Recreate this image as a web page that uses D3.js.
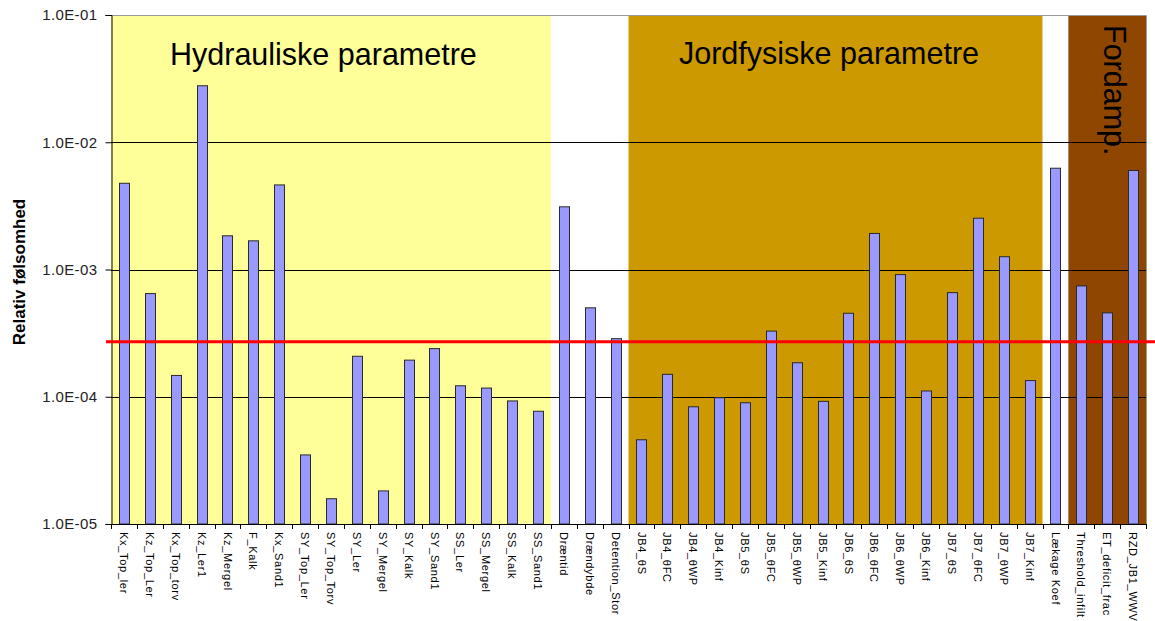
<!DOCTYPE html>
<html>
<head>
<meta charset="utf-8">
<script src="https://cdn.jsdelivr.net/npm/d3@7"></script>
<style>
  html, body { margin: 0; padding: 0; background: #ffffff; }
  svg { display: block; font-family: Arial, "Liberation Sans", sans-serif; }
</style>
</head>
<body>
<svg id="chart" width="1155" height="621"></svg>
<script>
// Parameter names along the x axis
const categories = [
  "Kx_Top_ler", "Kz_Top_Ler", "Kx_Top_torv", "Kz_Ler1", "Kz_Mergel", "F_Kalk", "Kx_Sand1",
  "SY_Top_Ler", "SY_Top_Torv", "SY_Ler", "SY_Mergel", "SY_Kalk", "SY_Sand1",
  "SS_Ler", "SS_Mergel", "SS_Kalk", "SS_Sand1",
  "Dræntid", "Drændybde", "Detention_Stor",
  "JB4_θS", "JB4_θFC", "JB4_θWP", "JB4_Kinf",
  "JB5_θS", "JB5_θFC", "JB5_θWP", "JB5_Kinf",
  "JB6_θS", "JB6_θFC", "JB6_θWP", "JB6_Kinf",
  "JB7_θS", "JB7_θFC", "JB7_θWP", "JB7_Kinf",
  "Lækage Koef",
  "Threshold_infilt", "ET_deficit_frac", "RZD_JB1_WWV"
];

// Relative sensitivity of each parameter
const sensitivity = [
  4.76e-3, 6.47e-4, 1.47e-4, 2.78e-2, 1.84e-3, 1.68e-3, 4.62e-3,
  3.49e-5, 1.58e-5, 2.08e-4, 1.82e-5, 1.94e-4, 2.39e-4,
  1.22e-4, 1.17e-4, 9.27e-5, 7.69e-5,
  3.11e-3, 5.00e-4, 2.86e-4,
  4.59e-5, 1.50e-4, 8.34e-5, 9.82e-5,
  8.97e-5, 3.28e-4, 1.85e-4, 9.20e-5,
  4.53e-4, 1.92e-3, 9.12e-4, 1.11e-4,
  6.58e-4, 2.53e-3, 1.26e-3, 1.34e-4,
  6.25e-3,
  7.43e-4, 4.56e-4, 6.00e-3
];

// Y axis tick values
const yTicks = [1e-5, 1e-4, 1e-3, 1e-2, 1e-1];

// Significance threshold (red line)
const threshold = [2.7e-4];

// Parameter groups shaded behind the bars
const groupLabels = ["Hydrauliske parametre", "Jordfysiske parametre", "Fordamp."];
const groupFrom   = ["Kx_Top_ler", "JB4_θS", "Threshold_infilt"];
const groupTo     = ["SS_Sand1", "JB7_Kinf", "RZD_JB1_WWV"];
const groupFill   = ["#FFFF99", "#CC9900", "#8E4600"];

const svg = d3.select("#chart");
const plotLeft = 111, plotRight = 1146, plotTop = 15, plotBottom = 524;

const x = d3.scaleBand().domain(categories).range([plotLeft, plotRight]).padding(0);
const y = d3.scaleLog().domain([1e-5, 1e-1]).range([plotBottom, plotTop]);
const bw = x.bandwidth();
const barW = 10;

// Group backgrounds
const groups = groupLabels.map((label, i) => ({ label, from: groupFrom[i], to: groupTo[i], fill: groupFill[i] }));
svg.append("g").selectAll("rect").data(groups).join("rect")
  .attr("x", d => x(d.from))
  .attr("y", plotTop)
  .attr("width", d => x(d.to) + bw - x(d.from))
  .attr("height", plotBottom - plotTop)
  .attr("fill", d => d.fill);

// Plot area frame (top and right)
svg.append("path")
  .attr("d", `M${plotLeft},${plotTop + 0.5}H${plotRight + 0.5}V${plotBottom}`)
  .attr("fill", "none").attr("stroke", "#9a9a9a").attr("stroke-width", 1);

// Horizontal gridlines at each decade
svg.append("g").selectAll("line").data(yTicks.filter(t => t > 1e-5 && t < 1e-1)).join("line")
  .attr("x1", plotLeft).attr("x2", plotRight)
  .attr("y1", d => Math.round(y(d)) + 0.5).attr("y2", d => Math.round(y(d)) + 0.5)
  .attr("stroke", "#000").attr("stroke-width", 1);

// Bars
svg.append("g").selectAll("rect").data(categories.map((c, i) => ({ c, v: sensitivity[i] }))).join("rect")
  .attr("x", d => Math.round(x(d.c) + bw / 2 - barW / 2) + 0.5)
  .attr("y", d => y(d.v))
  .attr("width", barW)
  .attr("height", d => plotBottom - y(d.v))
  .attr("fill", "#9999FF")
  .attr("stroke", "#2a2a2a")
  .attr("stroke-width", 1);

// Y axis
const yAxis = d3.axisLeft(y)
  .tickValues(yTicks)
  .tickSize(6)
  .tickPadding(8)
  .tickFormat(d => {
    const e = Math.round(Math.log10(d));
    return "1.0E" + (e < 0 ? "-" : "+") + String(Math.abs(e)).padStart(2, "0");
  });
const gy = svg.append("g").attr("transform", `translate(${plotLeft + 0.5},0)`).call(yAxis);
gy.select(".domain").attr("stroke", "#000");
gy.selectAll(".tick line").attr("stroke", "#000");
gy.selectAll(".tick text")
  .attr("font-size", 15)
  .attr("font-family", "Arial, 'Liberation Sans', sans-serif")
  .attr("fill", "#222")
  .attr("letter-spacing", 0.4);

// X axis line and boundary ticks
const gx = svg.append("g");
gx.append("line")
  .attr("x1", plotLeft).attr("x2", plotRight)
  .attr("y1", plotBottom + 0.5).attr("y2", plotBottom + 0.5)
  .attr("stroke", "#000");
const edges = categories.map(c => x(c)).concat([plotRight]);
gx.selectAll("line.tk").data(edges).join("line").attr("class", "tk")
  .attr("x1", d => Math.round(d) + 0.5).attr("x2", d => Math.round(d) + 0.5)
  .attr("y1", plotBottom).attr("y2", plotBottom + 5)
  .attr("stroke", "#000");

// Rotated category labels
gx.selectAll("text").data(categories).join("text")
  .attr("transform", d => `translate(${x(d) + bw / 2},${plotBottom + 8}) rotate(90)`)
  .attr("dy", "0.35em")
  .attr("text-anchor", "start")
  .attr("font-size", 11)
  .attr("letter-spacing", 0.7)
  .attr("fill", "#000")
  .text(d => d);

// Threshold line
svg.append("g").selectAll("line").data(threshold).join("line")
  .attr("x1", 106).attr("x2", 1155)
  .attr("y1", d => y(d)).attr("y2", d => y(d))
  .attr("stroke", "#FF0000").attr("stroke-width", 3);

// Group titles
svg.append("text").attr("x", 170).attr("y", 65)
  .attr("font-size", 30.5).attr("fill", "#000").text(groupLabels[0]);
svg.append("text").attr("x", 679).attr("y", 64)
  .attr("font-size", 30.5).attr("fill", "#000").text(groupLabels[1]);
svg.append("text").attr("transform", "translate(1104,25) rotate(90)")
  .attr("font-size", 30.5).attr("fill", "#000").text(groupLabels[2]);

// Y axis title
svg.append("text")
  .attr("transform", "translate(25,272) rotate(-90)")
  .attr("text-anchor", "middle")
  .attr("font-size", 17)
  .attr("font-weight", "bold")
  .attr("fill", "#000")
  .text("Relativ følsomhed");
</script>
</body>
</html>
